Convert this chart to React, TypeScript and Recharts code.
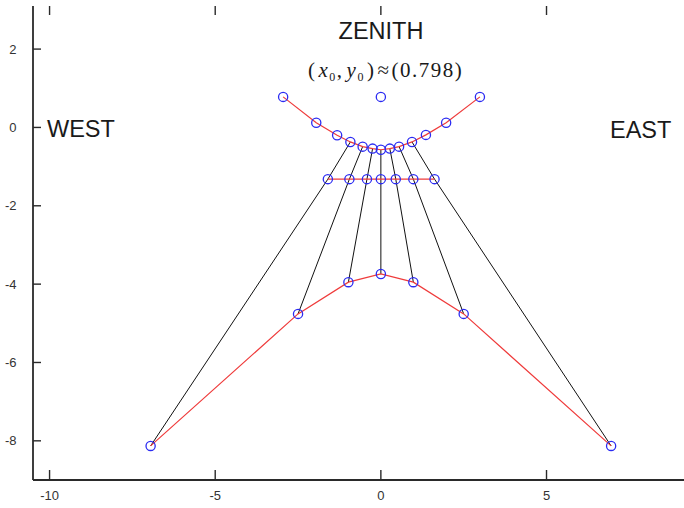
import React from 'react';
import { ScatterChart, Scatter, XAxis, YAxis } from 'recharts';

const bottomX = [-6.95, -2.5, -0.98, 0, 0.98, 2.5, 6.95];
const bottomY = [-8.13, -4.76, -3.95, -3.74, -3.95, -4.76, -8.13];
const midX = [-1.6, -0.95, -0.42, 0, 0.45, 0.98, 1.62];
const midY = [-1.32, -1.32, -1.32, -1.32, -1.32, -1.32, -1.32];
const topX = [-2.95, -1.95, -1.32, -0.92, -0.55, -0.25, 0, 0.27, 0.55, 0.94, 1.36, 1.97, 2.99];
const topY = [0.78, 0.12, -0.2, -0.37, -0.49, -0.54, -0.57, -0.54, -0.49, -0.37, -0.19, 0.12, 0.78];
const zenithX = [0];
const zenithY = [0.78];
const xTicks = [-10, -5, 0, 5];
const yTicks = [-8, -6, -4, -2, 0, 2];
const X_MIN = -10.5;
const X_MAX = 9.15;
const Y_MIN = -9;
const Y_MAX = 3.1;
const topOffset = 3; // index in top curve where black lines attach

// chart box (style)
const W = 684;
const H = 508;
const M_TOP = 6;
const Y_AXIS_W = 33;
const X_AXIS_H = 28;
const PLOT_L = Y_AXIS_W;
const PLOT_R = W;
const PLOT_T = M_TOP;
const PLOT_B = H - X_AXIS_H;
const sx = (v: number) => PLOT_L + ((v - X_MIN) / (X_MAX - X_MIN)) * (PLOT_R - PLOT_L);
const sy = (v: number) => PLOT_B - ((v - Y_MIN) / (Y_MAX - Y_MIN)) * (PLOT_B - PLOT_T);

const toPts = (xs: number[], ys: number[]) => xs.map((x, i) => ({ x, y: ys[i] }));
const bottomPts = toPts(bottomX, bottomY);
const midPts = toPts(midX, midY);
const topPts = toPts(topX, topY);
const zenithPts = toPts(zenithX, zenithY);
const blackLines = bottomPts.map((b, i) => [b, midPts[i], topPts[i + topOffset]]);
const topTickPts = xTicks.map((x) => ({ x, y: Y_MAX }));

const BLUE = '#2b2bf2';
const RED = '#ef3b3b';
const AXIS = '#2a2a2a';
const FONT = '"Liberation Sans", Arial, sans-serif';

const marker = (p: any) => (
  <circle cx={p.cx} cy={p.cy} r={4.6} fill="none" stroke={BLUE} strokeWidth={1.3} />
);
const noMarker = () => <g />;
const downTick = (p: any) => <line x1={p.cx} x2={p.cx} y1={p.cy} y2={p.cy + 9} stroke={AXIS} strokeWidth={1.4} />;

const BottomTick = (p: any) => (
  <text x={p.x} y={p.y + 20} textAnchor="middle" fontSize={13} fontFamily={FONT} fill="#333">
    {String(p.payload.value)}
  </text>
);
const TopTick = () => <g />;
const LeftTick = (p: any) => (
  <text x={p.x - 16.5} y={p.y + 4.5} textAnchor="end" fontSize={13} fontFamily={FONT} fill="#333">
    {String(p.payload.value)}
  </text>
);

export default function App() {
  return (
    <div style={{ position: 'absolute', left: 0, top: 0, width: W, height: H, background: '#fff' }}>
      <ScatterChart width={W} height={H} margin={{ top: M_TOP, right: 0, bottom: 0, left: 0 }}>
        <XAxis
          type="number"
          dataKey="x"
          domain={[X_MIN, X_MAX]}
          ticks={xTicks}
          allowDataOverflow
          height={X_AXIS_H}
          tickSize={0}
          tickMargin={0}
          tickLine={false}
          tick={BottomTick}
          axisLine={{ stroke: AXIS, strokeWidth: 1.8 }}
        />
        <XAxis
          xAxisId="top"
          orientation="top"
          type="number"
          domain={[X_MIN, X_MAX]}
          ticks={xTicks}
          allowDataOverflow
          height={0}
          tickSize={0}
          tickMargin={0}
          tickLine={false}
          tick={TopTick}
          axisLine={{ stroke: AXIS, strokeWidth: 1.8 }}
        />
        <YAxis
          type="number"
          dataKey="y"
          domain={[Y_MIN, Y_MAX]}
          ticks={yTicks}
          allowDataOverflow
          width={Y_AXIS_W}
          tickSize={0}
          tickMargin={0}
          tickLine={false}
          tick={LeftTick}
          axisLine={{ stroke: AXIS, strokeWidth: 1.8 }}
        />
        <Scatter data={topTickPts} shape={downTick} isAnimationActive={false} legendType="none" />
        {blackLines.map((pts, i) => (
          <Scatter
            key={'b' + i}
            data={pts}
            line={{ stroke: '#111', strokeWidth: 1 }}
            shape={noMarker}
            isAnimationActive={false}
            legendType="none"
          />
        ))}
        <Scatter data={bottomPts} line={{ stroke: RED, strokeWidth: 1.2 }} shape={marker} isAnimationActive={false} />
        <Scatter data={midPts} line={{ stroke: RED, strokeWidth: 1.2 }} shape={marker} isAnimationActive={false} />
        <Scatter data={topPts} line={{ stroke: RED, strokeWidth: 1.2 }} shape={marker} isAnimationActive={false} />
        <Scatter data={zenithPts} shape={marker} isAnimationActive={false} />
      </ScatterChart>
      <svg width={W} height={H} style={{ position: 'absolute', left: 0, top: 0, pointerEvents: 'none' }}>
        {xTicks.map((x) => (
          <line key={'bt' + x} x1={sx(x)} x2={sx(x)} y1={PLOT_B} y2={PLOT_B - 10} stroke={AXIS} strokeWidth={1.4} />
        ))}
        {yTicks.map((y) => (
          <line key={'lt' + y} x1={PLOT_L} x2={PLOT_L + 8} y1={sy(y)} y2={sy(y)} stroke={AXIS} strokeWidth={1.4} />
        ))}
        <text x={381} y={39} textAnchor="middle" fontSize={23.5} fontFamily={FONT} fill="#1a1a1a">ZENITH</text>
        <text x={47} y={137} fontSize={23.5} fontFamily={FONT} fill="#1a1a1a">WEST</text>
        <text x={610} y={138} fontSize={23.5} fontFamily={FONT} fill="#1a1a1a">EAST</text>
        <text x={308} y={77} fontSize={21} letterSpacing={1.5} fontFamily='"Liberation Serif", "Times New Roman", serif' fill="#1a1a1a">
          <tspan>(</tspan>
          <tspan dx={2} fontStyle="italic">x</tspan>
          <tspan fontSize={12} dy={4}>0</tspan>
          <tspan dy={-4}>,</tspan>
          <tspan dx={3} fontStyle="italic">y</tspan>
          <tspan fontSize={12} dy={4}>0</tspan>
          <tspan dy={-4} dx={2}>)</tspan>
          <tspan dx={2}>≈</tspan>
          <tspan dx={1}>(0.798)</tspan>
        </text>
      </svg>
    </div>
  );
}
